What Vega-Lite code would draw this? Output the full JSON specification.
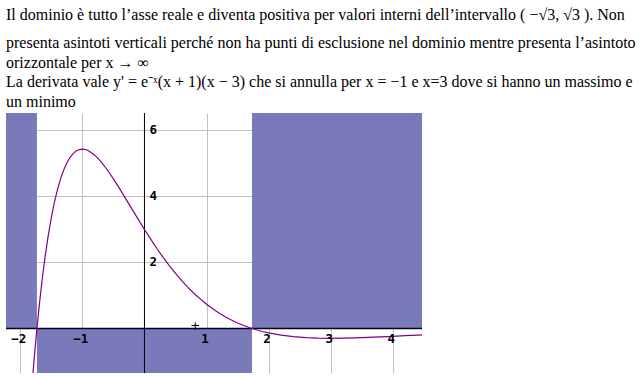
{
  "$schema": "https://vega.github.io/schema/vega-lite/v6.json",
  "width": 416,
  "height": 260,
  "autosize": {"type": "none"},
  "padding": {"left": 6, "top": 113, "right": 219, "bottom": 5},
  "background": "white",
  "config": {"view": {"stroke": null}},
  "title": {
    "text": "Il dominio è tutto l’asse reale e diventa positiva per valori interni dell’intervallo  ( −√3, √3 ). Non",
    "subtitle": [
      "presenta asintoti verticali perché non ha punti di esclusione nel dominio mentre presenta l’asintoto",
      "orizzontale per x → ∞",
      "La derivata vale  y' = e⁻ˣ(x + 1)(x − 3)  che si annulla per x = −1 e x=3 dove si hanno un massimo e",
      "un minimo"
    ],
    "anchor": "start",
    "frame": "group",
    "font": "Liberation Serif",
    "fontSize": 16,
    "fontWeight": "normal",
    "color": "black",
    "subtitleFont": "Liberation Serif",
    "subtitleFontSize": 16,
    "subtitleColor": "black",
    "subtitleLineHeight": 19.5,
    "subtitlePadding": 12,
    "offset": 3
  },
  "datasets": {
    "curve": [
      {"x": -1.82, "y": -1.928}, {"x": -1.8, "y": -1.452}, {"x": -1.75, "y": -0.3597},
      {"x": -1.7, "y": 0.6021}, {"x": -1.65, "y": 1.4449}, {"x": -1.6, "y": 2.1793},
      {"x": -1.55, "y": 2.8151}, {"x": -1.5, "y": 3.3613}, {"x": -1.45, "y": 3.8261},
      {"x": -1.4, "y": 4.2174}, {"x": -1.35, "y": 4.5421}, {"x": -1.3, "y": 4.8068},
      {"x": -1.25, "y": 5.0174}, {"x": -1.2, "y": 5.1794}, {"x": -1.15, "y": 5.2978},
      {"x": -1.1, "y": 5.3775}, {"x": -1.05, "y": 5.4225}, {"x": -1.0, "y": 5.4366},
      {"x": -0.95, "y": 5.4235}, {"x": -0.9, "y": 5.3865}, {"x": -0.8, "y": 5.2522},
      {"x": -0.7, "y": 5.0546}, {"x": -0.6, "y": 4.8104}, {"x": -0.5, "y": 4.534},
      {"x": -0.4, "y": 4.2368}, {"x": -0.3, "y": 3.9281}, {"x": -0.2, "y": 3.6154},
      {"x": -0.1, "y": 3.3044}, {"x": 0.0, "y": 3.0}, {"x": 0.1, "y": 2.7054},
      {"x": 0.2, "y": 2.4235}, {"x": 0.3, "y": 2.1558}, {"x": 0.4, "y": 1.9037},
      {"x": 0.5, "y": 1.668}, {"x": 0.6, "y": 1.4489}, {"x": 0.7, "y": 1.2465},
      {"x": 0.8, "y": 1.0604}, {"x": 0.9, "y": 0.8904}, {"x": 1.0, "y": 0.7358},
      {"x": 1.1, "y": 0.5959}, {"x": 1.2, "y": 0.4699}, {"x": 1.3, "y": 0.357},
      {"x": 1.4, "y": 0.2565}, {"x": 1.5, "y": 0.1673}, {"x": 1.6, "y": 0.0888},
      {"x": 1.7, "y": 0.0201}, {"x": 1.8, "y": -0.0397}, {"x": 1.9, "y": -0.0913},
      {"x": 2.0, "y": -0.1353}, {"x": 2.2, "y": -0.2039}, {"x": 2.4, "y": -0.2504},
      {"x": 2.6, "y": -0.2793}, {"x": 2.8, "y": -0.2943}, {"x": 3.0, "y": -0.2987},
      {"x": 3.2, "y": -0.2951}, {"x": 3.4, "y": -0.2858}, {"x": 3.6, "y": -0.2723},
      {"x": 3.8, "y": -0.256}, {"x": 4.0, "y": -0.2381}, {"x": 4.2, "y": -0.2193},
      {"x": 4.4, "y": -0.2008}, {"x": 4.5, "y": -0.1916}
    ],
    "shade": [
      {"x1": -2.4, "x2": -1.732, "y1": 0, "y2": 7},
      {"x1": -1.732, "x2": 1.732, "y1": -2, "y2": 0},
      {"x1": 1.732, "x2": 4.6, "y1": 0, "y2": 7}
    ],
    "xlabels": [
      {"v": -2, "t": "−2"}, {"v": -1, "t": "−1"}, {"v": 1, "t": "1"},
      {"v": 2, "t": "2"}, {"v": 3, "t": "3"}, {"v": 4, "t": "4"}
    ],
    "ylabels": [
      {"v": 2, "t": "2"}, {"v": 4, "t": "4"}, {"v": 6, "t": "6"}
    ],
    "origin": [{"x": 0, "y": 0}],
    "cursor": [{"x": 0.82, "y": 0.07, "t": "+"}]
  },
  "layer": [
    {
      "data": {"name": "shade"},
      "mark": {"type": "rect", "fill": "#7a7abb", "clip": true},
      "encoding": {
        "x": {"field": "x1", "type": "quantitative",
          "scale": {"domain": [-2.23, 4.47], "nice": false, "zero": false},
          "axis": {"grid": true, "gridColor": "#c0c0c0", "gridWidth": 1, "labels": false, "ticks": false, "domain": false, "title": null, "values": [-2, -1, 0, 1, 2, 3, 4]}},
        "x2": {"field": "x2"},
        "y": {"field": "y1", "type": "quantitative",
          "scale": {"domain": [-1.35, 6.53], "nice": false, "zero": false},
          "axis": {"grid": true, "gridColor": "#c0c0c0", "gridWidth": 1, "labels": false, "ticks": false, "domain": false, "title": null, "values": [2, 4, 6]}},
        "y2": {"field": "y2"}
      }
    },
    {
      "data": {"name": "origin"},
      "mark": {"type": "rule", "color": "black", "strokeWidth": 1},
      "encoding": {"x": {"field": "x", "type": "quantitative"}}
    },
    {
      "data": {"name": "origin"},
      "mark": {"type": "rule", "color": "#000020", "strokeWidth": 1.5},
      "encoding": {"y": {"field": "y", "type": "quantitative"}}
    },
    {
      "data": {"name": "curve"},
      "mark": {"type": "line", "color": "#800080", "strokeWidth": 1.2, "clip": true},
      "encoding": {
        "x": {"field": "x", "type": "quantitative"},
        "y": {"field": "y", "type": "quantitative"}
      }
    },
    {
      "data": {"name": "xlabels"},
      "mark": {"type": "text", "font": "DejaVu Sans Mono", "fontWeight": "bold", "fontSize": 12.5, "align": "center", "baseline": "middle", "dx": -1.5, "dy": 11, "color": "black"},
      "encoding": {
        "x": {"field": "v", "type": "quantitative"},
        "y": {"datum": 0, "type": "quantitative"},
        "text": {"field": "t"}
      }
    },
    {
      "data": {"name": "ylabels"},
      "mark": {"type": "text", "font": "DejaVu Sans Mono", "fontWeight": "bold", "fontSize": 12.5, "align": "left", "baseline": "middle", "dx": 5, "dy": -0.5, "color": "black"},
      "encoding": {
        "x": {"datum": 0, "type": "quantitative"},
        "y": {"field": "v", "type": "quantitative"},
        "text": {"field": "t"}
      }
    },
    {
      "data": {"name": "cursor"},
      "mark": {"type": "text", "font": "DejaVu Sans", "fontSize": 12, "align": "center", "baseline": "middle", "color": "black"},
      "encoding": {
        "x": {"field": "x", "type": "quantitative"},
        "y": {"field": "y", "type": "quantitative"},
        "text": {"field": "t"}
      }
    }
  ]
}
